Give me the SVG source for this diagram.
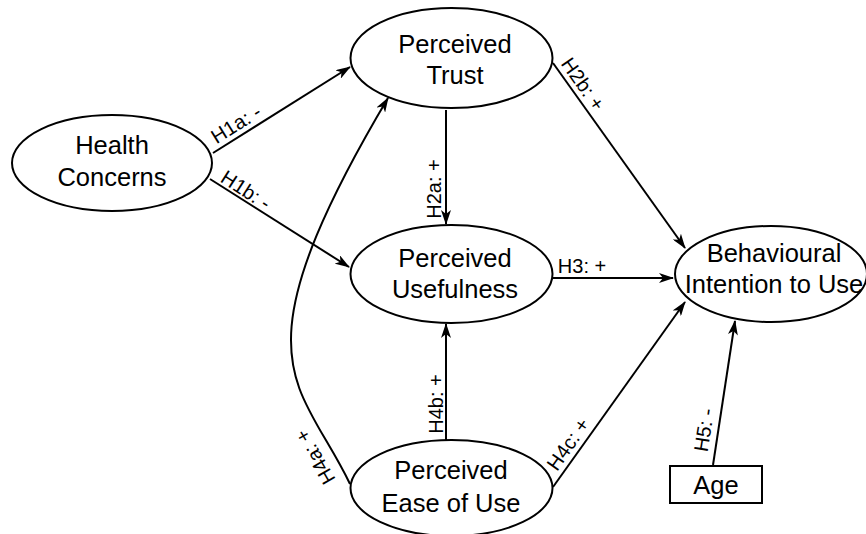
<svg xmlns="http://www.w3.org/2000/svg" width="866" height="534" viewBox="0 0 866 534">
<defs>
<style>
.node ellipse, .node rect { fill: #fff; stroke: #000; stroke-width: 2; }
.node text { font-family: "Liberation Sans", Arial, sans-serif; font-size: 25.5px; fill: #000; text-anchor: middle; }
.edge { fill: none; stroke: #000; stroke-width: 2; marker-end: url(#arr); }
.lbl { font-family: "Liberation Sans", Arial, sans-serif; font-size: 20px; fill: #000; text-anchor: middle; dominant-baseline: central; }
</style>
<marker id="arr" viewBox="0 0 15 10" refX="14" refY="5" markerWidth="15" markerHeight="10" markerUnits="userSpaceOnUse" orient="auto">
<path d="M0,0 L15,5 L0,10 L4,5 z" fill="#000"/>
</marker>
</defs>
<rect width="866" height="534" fill="#fff"/>
<g id="connectors">
<path class="edge" d="M213,153 L350,67"/>
<path class="edge" d="M210,179 L349,267"/>
<path class="edge" d="M446,110 L446,224"/>
<path class="edge" d="M553,63 L685,248"/>
<path class="edge" d="M553,278 L673,278"/>
<path class="edge" d="M350,484 C300.6,381.4 230.5,363.5 388,98"/>
<path class="edge" d="M446,440 L446,324"/>
<path class="edge" d="M553,487 L685,302"/>
<path class="edge" d="M713,465 L735,321"/>
<text class="lbl" transform="translate(236,124) rotate(-32)">H1a: -</text>
<text class="lbl" transform="translate(246,190) rotate(33)">H1b: -</text>
<text class="lbl" transform="translate(434,189) rotate(-90)">H2a: +</text>
<text class="lbl" transform="translate(583,84) rotate(55)">H2b: +</text>
<text class="lbl" transform="translate(582,266)">H3: +</text>
<text class="lbl" transform="translate(315,457) rotate(-120)">H4a: +</text>
<text class="lbl" transform="translate(436,404) rotate(-90)">H4b: +</text>
<text class="lbl" transform="translate(568,444) rotate(-55)">H4c: +</text>
<text class="lbl" transform="translate(704,430) rotate(-81)">H5: -</text>
</g>
<g id="health-concerns" class="node">
<ellipse cx="112" cy="163" rx="100" ry="48"/>
<text x="112" y="154">Health</text>
<text x="112" y="186">Concerns</text>
</g>
<g id="perceived-trust" class="node">
<ellipse cx="451.5" cy="58" rx="101" ry="50"/>
<text x="455" y="53">Perceived</text>
<text x="455" y="84">Trust</text>
</g>
<g id="perceived-usefulness" class="node">
<ellipse cx="451.5" cy="274" rx="101" ry="49"/>
<text x="455" y="267">Perceived</text>
<text x="455" y="298">Usefulness</text>
</g>
<g id="behavioural-intention" class="node">
<ellipse cx="771" cy="274" rx="96" ry="48"/>
<text x="774" y="262">Behavioural</text>
<text x="774" y="293">Intention to Use</text>
</g>
<g id="perceived-ease-of-use" class="node">
<ellipse cx="451.5" cy="488" rx="101" ry="48"/>
<text x="451" y="479">Perceived</text>
<text x="451" y="512">Ease of Use</text>
</g>
<g id="age" class="node">
<rect x="670" y="466" width="92" height="37"/>
<text x="716" y="494">Age</text>
</g>
</svg>
